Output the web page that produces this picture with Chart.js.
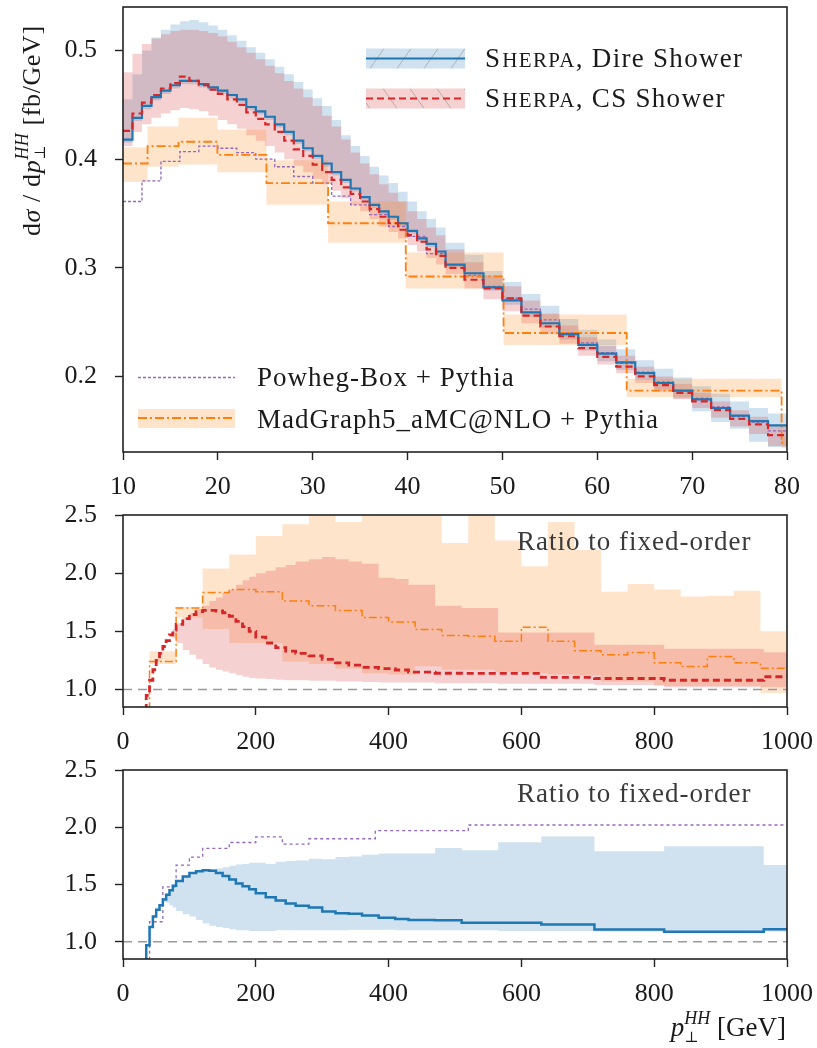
<!DOCTYPE html>
<html>
<head>
<meta charset="utf-8">
<script src="https://cdn.jsdelivr.net/npm/chart.js@4.4.1/dist/chart.umd.min.js"></script>
<style>
  html, body { margin: 0; padding: 0; background: #fff; }
  #wrap { position: relative; width: 817px; height: 1048px; }
  canvas { position: absolute; left: 0; }
</style>
</head>
<body>
<div id="wrap">
  <canvas id="topChart" width="817" height="500" style="top:0px"></canvas>
  <canvas id="midChart" width="817" height="258" style="top:500px"></canvas>
  <canvas id="botChart" width="817" height="293" style="top:755px"></canvas>
</div>
<script>
// ---- top panel: d sigma / d pT, 10-80 GeV ----
const topTicksX = [10, 20, 30, 40, 50, 60, 70, 80];
const topTicksY = [0.2, 0.3, 0.4, 0.5];

const sherpaEdges = [10, 11, 12, 13, 14, 15, 16, 17, 18, 19, 20, 21, 22, 23, 24, 25, 26, 27, 28, 29,
  30, 31, 32, 33, 34, 35, 36, 37, 38, 39, 40, 41, 42, 43, 44,
  46, 48, 50, 52, 54, 56, 58, 60, 62, 64, 66, 68, 70, 72, 74, 76, 78, 80];

const direCentral = [0.418, 0.438, 0.449, 0.457, 0.463, 0.468, 0.472, 0.472, 0.469, 0.466,
  0.463, 0.459, 0.455, 0.448, 0.444, 0.439, 0.432, 0.425, 0.417, 0.410,
  0.403, 0.396, 0.388, 0.381, 0.373, 0.365, 0.358, 0.352, 0.347, 0.341,
  0.334, 0.327, 0.322, 0.315,
  0.303, 0.295, 0.282, 0.270, 0.259, 0.249, 0.239, 0.229, 0.221, 0.213, 0.203, 0.194, 0.187, 0.179, 0.171, 0.164, 0.159, 0.155];
const direUp = [0.455, 0.478, 0.500, 0.512, 0.519, 0.524, 0.527, 0.528, 0.526, 0.523,
  0.519, 0.514, 0.509, 0.503, 0.498, 0.492, 0.485, 0.478, 0.471, 0.464,
  0.456, 0.449, 0.436, 0.422, 0.412, 0.403, 0.393, 0.385, 0.378, 0.370,
  0.361, 0.352, 0.345, 0.337,
  0.323, 0.312, 0.297, 0.287, 0.276, 0.265, 0.253, 0.243, 0.234, 0.225, 0.215, 0.207, 0.199, 0.191, 0.184, 0.177, 0.171, 0.166];
const direDown = [0.415, 0.435, 0.446, 0.454, 0.460, 0.465, 0.469, 0.469, 0.466, 0.463,
  0.460, 0.456, 0.452, 0.445, 0.441, 0.436, 0.429, 0.422, 0.414, 0.407,
  0.400, 0.393, 0.385, 0.378, 0.370, 0.362, 0.355, 0.349, 0.344, 0.338,
  0.331, 0.324, 0.319, 0.312,
  0.300, 0.291, 0.279, 0.266, 0.255, 0.245, 0.234, 0.224, 0.214, 0.206, 0.197, 0.188, 0.180, 0.168, 0.158, 0.152, 0.140, 0.135];

const csCentral = [0.426, 0.442, 0.452, 0.459, 0.465, 0.470, 0.476, 0.472, 0.468, 0.464,
  0.460, 0.455, 0.450, 0.443, 0.437, 0.432, 0.425, 0.417, 0.409, 0.403,
  0.395, 0.388, 0.381, 0.374, 0.368, 0.361, 0.354, 0.347, 0.341, 0.335,
  0.330, 0.324, 0.317, 0.311,
  0.300, 0.289, 0.281, 0.272, 0.256, 0.246, 0.237, 0.226, 0.218, 0.209, 0.200, 0.192, 0.185, 0.177, 0.169, 0.161, 0.156, 0.146];
const csUp = [0.480, 0.497, 0.506, 0.511, 0.515, 0.518, 0.519, 0.519, 0.518, 0.516,
  0.513, 0.508, 0.503, 0.498, 0.492, 0.486, 0.479, 0.472, 0.465, 0.457,
  0.449, 0.440, 0.430, 0.418, 0.406, 0.396, 0.386, 0.377, 0.369, 0.361,
  0.352, 0.345, 0.337, 0.330,
  0.317, 0.305, 0.293, 0.283, 0.270, 0.258, 0.247, 0.236, 0.228, 0.219, 0.209, 0.200, 0.193, 0.185, 0.177, 0.169, 0.163, 0.155];
const csDown = [0.412, 0.425, 0.432, 0.438, 0.442, 0.445, 0.447, 0.446, 0.444, 0.440,
  0.436, 0.432, 0.428, 0.422, 0.417, 0.412, 0.406, 0.400, 0.394, 0.388,
  0.382, 0.377, 0.371, 0.364, 0.358, 0.352, 0.345, 0.338, 0.333, 0.327,
  0.321, 0.315, 0.309, 0.303,
  0.294, 0.281, 0.271, 0.260, 0.249, 0.239, 0.230, 0.219, 0.211, 0.203, 0.194, 0.186, 0.179, 0.171, 0.162, 0.154, 0.147, 0.136];

const mg5Edges = [10, 12.59, 15.85, 19.95, 25.12, 31.62, 39.81, 50.12, 63.10, 79.43, 90];
const mg5Central = [0.396, 0.412, 0.416, 0.404, 0.378, 0.341, 0.292, 0.240, 0.187, 0.139];
const mg5Up = [0.411, 0.430, 0.438, 0.427, 0.399, 0.361, 0.314, 0.257, 0.198, 0.144];
const mg5Down = [0.379, 0.393, 0.395, 0.388, 0.358, 0.323, 0.281, 0.229, 0.181, 0.134];

const powhegEdges = [10, 12, 14, 16, 18, 20, 22, 24, 26, 28, 30, 32, 34, 36, 38, 40, 42, 44,
  46, 48, 50, 52, 54, 56, 58, 60, 62, 64, 66, 68, 70, 72, 74, 76, 78, 80];
const powhegCentral = [0.361, 0.380, 0.398, 0.407, 0.412, 0.410, 0.406, 0.400, 0.393, 0.384,
  0.378, 0.366, 0.358, 0.349, 0.338, 0.329, 0.313, 0.303, 0.293, 0.283,
  0.272, 0.262, 0.252, 0.240, 0.231, 0.222, 0.212, 0.204, 0.195, 0.187,
  0.180, 0.172, 0.163, 0.158, 0.150];

// ---- ratio panels, 0-1000 GeV ----
const ratioTicksX = [0, 200, 400, 600, 800, 1000];
const ratioTicksY = [1.0, 1.5, 2.0, 2.5];

const ratioEdges = [30, 35, 40, 45, 50, 55, 60, 65, 70, 75, 80,
  90, 100, 110, 120, 130, 140, 150, 160, 170, 180, 190, 200,
  215, 230, 245, 260, 280, 300, 320, 340, 360,
  385, 410, 430, 470, 510, 565, 630, 710, 815, 965, 1000];

const csRatio = [0.75, 0.95, 1.08, 1.17, 1.25, 1.31, 1.37, 1.42, 1.47, 1.51,
  1.56, 1.61, 1.645, 1.67, 1.68, 1.68, 1.675, 1.66, 1.63, 1.585, 1.54, 1.50,
  1.45, 1.40, 1.36, 1.33,
  1.31, 1.29, 1.26, 1.23, 1.21,
  1.19, 1.18, 1.168, 1.15, 1.14, 1.139, 1.139, 1.105, 1.095, 1.08, 1.11];
const csRatioUp = [0.76, 0.96, 1.09, 1.18, 1.26, 1.32, 1.38, 1.43, 1.48, 1.52,
  1.57, 1.62, 1.655, 1.69, 1.72, 1.76, 1.79, 1.83, 1.86, 1.90, 1.94, 1.97,
  2.00, 2.02, 2.05, 2.07,
  2.10, 2.12, 2.14, 2.12, 2.10,
  2.08, 1.96, 1.95, 1.90, 1.72, 1.70, 1.49, 1.49, 1.385, 1.35, 1.32];
const csRatioDown = [0.74, 0.94, 1.07, 1.16, 1.24, 1.30, 1.36, 1.41, 1.45, 1.44,
  1.40, 1.34, 1.30, 1.26, 1.22, 1.19, 1.17, 1.155, 1.14, 1.125, 1.11, 1.10,
  1.095, 1.09, 1.085, 1.08,
  1.08, 1.075, 1.075, 1.07, 1.07,
  1.065, 1.06, 1.06, 1.06, 1.055, 1.055, 1.05, 1.05, 1.04, 1.02, 1.02];

const direRatio = [0.80, 0.97, 1.13, 1.22, 1.28, 1.32, 1.37, 1.41, 1.45, 1.49,
  1.53, 1.57, 1.60, 1.615, 1.625, 1.62, 1.60, 1.575, 1.545, 1.51, 1.485, 1.46,
  1.425, 1.39, 1.36, 1.335,
  1.315, 1.30, 1.265, 1.25, 1.245,
  1.23, 1.21, 1.20, 1.19, 1.189, 1.166, 1.166, 1.152, 1.108, 1.087, 1.11];
const direRatioUp = [0.80, 0.98, 1.14, 1.23, 1.29, 1.33, 1.38, 1.42, 1.46, 1.50,
  1.54, 1.58, 1.60, 1.62, 1.63, 1.635, 1.64, 1.65, 1.665, 1.675, 1.68, 1.69,
  1.69, 1.68, 1.70, 1.705,
  1.71, 1.725, 1.72, 1.74, 1.745,
  1.76, 1.77, 1.77, 1.77, 1.82, 1.80, 1.87, 1.92, 1.79, 1.835, 1.67];
const direRatioDown = [0.80, 0.96, 1.12, 1.21, 1.27, 1.31, 1.35, 1.34, 1.32, 1.30,
  1.27, 1.24, 1.22, 1.19, 1.16, 1.14, 1.13, 1.12, 1.11, 1.10, 1.10, 1.095,
  1.095, 1.095, 1.10, 1.10,
  1.10, 1.10, 1.10, 1.10, 1.105,
  1.105, 1.105, 1.10, 1.10, 1.10, 1.10, 1.095, 1.095, 1.09, 1.09, 1.09];

const mg5RatioEdges = [0, 40, 80, 120, 160, 200, 240, 280, 320, 360, 400, 440, 480, 520,
  560, 600, 640, 680, 720, 760, 800, 840, 880, 920, 960, 1000];
const mg5Ratio = [0.5, 1.24, 1.70, 1.835, 1.86, 1.84, 1.76, 1.72, 1.68, 1.62, 1.58, 1.515, 1.465,
  1.457, 1.414, 1.536, 1.414, 1.333, 1.298, 1.318, 1.231, 1.197, 1.284, 1.231, 1.183];
const mg5RatioUp = [0.5, 1.33, 1.71, 2.04, 2.16, 2.32, 2.42, 2.7, 2.44, 2.7, 2.7, 2.7, 2.26,
  2.7, 2.28, 2.06, 2.44, 2.20, 1.84, 1.907, 1.86, 1.80, 1.805, 1.85, 1.50];
const mg5RatioDown = [0.5, 1.22, 1.62, 1.52, 1.40, 1.40, 1.24, 1.22, 1.18, 1.14, 1.13, 1.20, 1.17,
  1.17, 1.15, 1.14, 1.13, 1.12, 1.07, 1.07, 1.03, 1.03, 1.03, 1.03, 0.97];

const powhegRatioEdges = [0, 40, 60, 80, 100, 120, 160, 200, 240, 280, 380, 520, 1000];
const powhegRatio = [0.5, 1.175, 1.48, 1.67, 1.74, 1.815, 1.867, 1.916, 1.853, 1.90, 1.97, 2.02];

// ---- styling ----
const FONT = '"Liberation Serif", "DejaVu Serif", serif';
const INK = '#1a1a1a';
const BLUE = '#1f77b4', RED = '#d62728', ORANGE = '#ff7f0e', PURPLE = '#9467bd';
const BLUE_BAND = 'rgba(31,119,180,0.21)';
const RED_BAND = 'rgba(214,39,40,0.21)';
const ORANGE_BAND = 'rgba(255,127,14,0.21)';

function stepPts(edges, vals) {
  const pts = [];
  for (let i = 0; i < vals.length; i++) {
    pts.push({ x: edges[i], y: vals[i] });
    pts.push({ x: edges[i + 1], y: vals[i] });
  }
  return pts;
}

function lineSet(edges, vals, color, width, dash, order) {
  return {
    data: stepPts(edges, vals), borderColor: color, borderWidth: width, borderDash: dash,
    pointRadius: 0, fill: false, order: order, clip: 0
  };
}

// pushes lower + upper edge, filled between
function addBand(sets, edges, lo, hi, color, order) {
  sets.push({ data: stepPts(edges, lo), borderColor: 'rgba(0,0,0,0)', borderWidth: 0,
    pointRadius: 0, fill: false, order: order, clip: 0 });
  const idx = sets.length - 1;
  sets.push({ data: stepPts(edges, hi), borderColor: 'rgba(0,0,0,0)', borderWidth: 0,
    pointRadius: 0, fill: idx, backgroundColor: color, order: order, clip: 0 });
}

function noPad(s) {
  s.paddingTop = 0; s.paddingBottom = 0; s.paddingLeft = 0; s.paddingRight = 0;
}

function axisX(min, max, ticks, height) {
  return {
    type: 'linear', min: min, max: max,
    afterBuildTicks: s => { s.ticks = ticks.map(v => ({ value: v })); },
    afterFit: s => { s.height = height; noPad(s); },
    grid: { drawOnChartArea: false, drawTicks: true, tickLength: 8, tickWidth: 1.4, tickColor: '#222' },
    border: { display: false },
    ticks: { font: { family: FONT, size: 26 }, color: INK, padding: 12, maxRotation: 0, autoSkip: false,
      callback: v => String(v) }
  };
}

function axisY(min, max, ticks) {
  return {
    min: min, max: max,
    afterBuildTicks: s => { s.ticks = ticks.map(v => ({ value: v })); },
    afterFit: s => { s.width = 123; noPad(s); },
    grid: { drawOnChartArea: false, drawTicks: true, tickLength: 8, tickWidth: 1.4, tickColor: '#222' },
    border: { display: false },
    ticks: { font: { family: FONT, size: 26 }, color: INK, padding: 18, autoSkip: false,
      callback: v => Number(v).toFixed(1) }
  };
}

const framePlugin = {
  id: 'frame',
  afterDatasetsDraw(chart) {
    const { ctx, chartArea: a } = chart;
    ctx.save();
    ctx.strokeStyle = '#222';
    ctx.lineWidth = 1.6;
    ctx.strokeRect(a.left, a.top, a.right - a.left, a.bottom - a.top);
    ctx.restore();
  }
};

// draws text pieces; sub/superscripts (stack) share one slot after the previous piece
function drawRuns(ctx, runs, x, y) {
  let slot = 0;
  for (const r of runs) {
    ctx.font = (r.italic ? 'italic ' : '') + r.size + 'px ' + FONT;
    const w = ctx.measureText(r.t).width;
    if (r.stack) {
      ctx.fillText(r.t, x, y + (r.dy || 0));
      slot = Math.max(slot, w);
      continue;
    }
    x += slot;
    slot = 0;
    ctx.fillText(r.t, x, y + (r.dy || 0));
    x += w;
  }
  return x + slot;
}

function runsWidth(ctx, runs) {
  let total = 0, slot = 0;
  for (const r of runs) {
    ctx.font = (r.italic ? 'italic ' : '') + r.size + 'px ' + FONT;
    const w = ctx.measureText(r.t).width;
    if (r.stack) { slot = Math.max(slot, w); continue; }
    total += slot + w;
    slot = 0;
  }
  return total + slot;
}

function sherpaLabel(ctx, x, y, rest) {
  x = drawRuns(ctx, [{ t: 'S', size: 27 }], x, y);
  x = drawRuns(ctx, [{ t: 'HERPA', size: 21 }], x + 1, y);
  drawRuns(ctx, [{ t: rest, size: 27 }], x, y);
}

function swatch(ctx, x0, x1, yc, h, fill, slant) {
  ctx.fillStyle = fill;
  ctx.fillRect(x0, yc - h / 2, x1 - x0, h);
  ctx.save();
  ctx.beginPath();
  ctx.rect(x0, yc - h / 2, x1 - x0, h);
  ctx.clip();
  ctx.strokeStyle = 'rgba(140,140,140,0.55)';
  ctx.lineWidth = 1;
  ctx.setLineDash([]);
  ctx.beginPath();
  for (let x = x0 + 4; x < x1 + 30; x += 27) {
    ctx.moveTo(x, yc + h / 2);
    ctx.lineTo(x + slant * h * 0.7, yc - h / 2);
  }
  ctx.stroke();
  ctx.restore();
}

function hline(ctx, x0, x1, y, color, width, dash) {
  ctx.strokeStyle = color;
  ctx.lineWidth = width;
  ctx.setLineDash(dash);
  ctx.beginPath();
  ctx.moveTo(x0, y);
  ctx.lineTo(x1, y);
  ctx.stroke();
  ctx.setLineDash([]);
}

const topDecor = {
  id: 'topDecor',
  afterDraw(chart) {
    const ctx = chart.ctx;
    ctx.save();
    ctx.fillStyle = INK;
    ctx.textBaseline = 'alphabetic';
    ctx.letterSpacing = '1.3px';

    // legend, top right
    swatch(ctx, 366, 465, 58.5, 20, BLUE_BAND, 1);
    hline(ctx, 366, 465, 58.5, BLUE, 2.2, []);
    swatch(ctx, 366, 465, 98.5, 20, RED_BAND, -1);
    hline(ctx, 366, 465, 98.5, RED, 2.2, [7, 4]);
    ctx.fillStyle = INK;
    sherpaLabel(ctx, 485, 67, ', Dire Shower');
    sherpaLabel(ctx, 485, 107, ', CS Shower');

    // legend, bottom left
    ctx.letterSpacing = '1px';
    hline(ctx, 138, 235, 377.5, PURPLE, 1.3, [3, 2]);
    ctx.fillStyle = ORANGE_BAND;
    ctx.fillRect(138, 409, 97, 19);
    hline(ctx, 138, 235, 418, ORANGE, 1.8, [9, 3, 2, 3]);
    ctx.fillStyle = INK;
    drawRuns(ctx, [{ t: 'Powheg-Box + Pythia', size: 27 }], 257, 386);
    drawRuns(ctx, [{ t: 'MadGraph5_aMC@NLO + Pythia', size: 27 }], 257, 428);

    // y axis title, rotated
    ctx.letterSpacing = '0.6px';
    ctx.translate(40, 236);
    ctx.rotate(-Math.PI / 2);
    drawRuns(ctx, [
      { t: 'd', size: 26 }, { t: '\u03c3', size: 26, italic: true }, { t: ' / d', size: 26 },
      { t: 'p', size: 26, italic: true },
      { t: '\u22a5', size: 15, dy: 5, stack: true },
      { t: 'HH', size: 18, italic: true, dy: -12, stack: true },
      { t: ' [fb/GeV]', size: 26 }
    ], 0, 0);
    ctx.restore();
  }
};

function ratioText(y) {
  return {
    id: 'ratioText',
    afterDraw(chart) {
      const ctx = chart.ctx;
      ctx.save();
      ctx.letterSpacing = '1px';
      ctx.fillStyle = '#3a3a3a';
      drawRuns(ctx, [{ t: 'Ratio to fixed-order', size: 27 }], 517, y);
      ctx.restore();
    }
  };
}

const xTitle = {
  id: 'xTitle',
  afterDraw(chart) {
    const ctx = chart.ctx;
    ctx.save();
    ctx.fillStyle = INK;
    const runs = [
      { t: 'p', size: 27, italic: true },
      { t: '\u22a5', size: 15, dy: 6, stack: true },
      { t: 'HH', size: 18, italic: true, dy: -12, stack: true },
      { t: ' [GeV]', size: 27 }
    ];
    const w = runsWidth(ctx, runs);
    drawRuns(ctx, runs, 786 - w, 281);
    ctx.restore();
  }
};

function baseOptions(padTop, xs, ys) {
  return {
    responsive: false, animation: false, events: [],
    layout: { autoPadding: false, padding: { left: 0, right: 30, top: padTop, bottom: 0 } },
    plugins: { legend: { display: false }, tooltip: { enabled: false } },
    elements: { line: { tension: 0, borderJoinStyle: 'miter', borderCapStyle: 'butt' } },
    scales: { x: xs, y: ys }
  };
}

// ---- top chart ----
const topSets = [];
addBand(topSets, sherpaEdges, direDown, direUp, BLUE_BAND, 9);
addBand(topSets, sherpaEdges, csDown, csUp, RED_BAND, 8);
addBand(topSets, mg5Edges, mg5Down, mg5Up, ORANGE_BAND, 7);
topSets.push(lineSet(powhegEdges, powhegCentral, PURPLE, 1.3, [3, 2], 4));
topSets.push(lineSet(mg5Edges, mg5Central, ORANGE, 1.8, [9, 3, 2, 3], 3));
topSets.push(lineSet(sherpaEdges, direCentral, BLUE, 2.2, [], 2));
topSets.push(lineSet(sherpaEdges, csCentral, RED, 2.2, [7, 4], 1));

new Chart(document.getElementById('topChart'), {
  type: 'line',
  data: { datasets: topSets },
  options: baseOptions(7, axisX(10, 80, topTicksX, 48), axisY(0.1305, 0.540, topTicksY)),
  plugins: [framePlugin, topDecor]
});

// ---- middle chart: CS shower & MadGraph ratios ----
const midSets = [];
addBand(midSets, mg5RatioEdges, mg5RatioDown, mg5RatioUp, ORANGE_BAND, 9);
addBand(midSets, ratioEdges, csRatioDown, csRatioUp, RED_BAND, 8);
midSets.push(lineSet([0, 1000], [1.0], '#9a9a9a', 1.5, [9, 6], 3));
midSets.push(lineSet(mg5RatioEdges, mg5Ratio, ORANGE, 1.5, [8, 3, 2, 3], 2));
midSets.push(lineSet(ratioEdges, csRatio, RED, 2.8, [7, 4], 1));

new Chart(document.getElementById('midChart'), {
  type: 'line',
  data: { datasets: midSets },
  options: baseOptions(15, axisX(0, 1000, ratioTicksX, 51), axisY(0.85, 2.5, ratioTicksY)),
  plugins: [framePlugin, ratioText(50)]
});

// ---- bottom chart: Dire shower & Powheg ratios ----
const botSets = [];
addBand(botSets, ratioEdges, direRatioDown, direRatioUp, BLUE_BAND, 9);
botSets.push(lineSet([0, 1000], [1.0], '#9a9a9a', 1.5, [9, 6], 3));
botSets.push(lineSet(powhegRatioEdges, powhegRatio, PURPLE, 1.3, [3, 3], 2));
botSets.push(lineSet(ratioEdges, direRatio, BLUE, 2.5, [], 1));

new Chart(document.getElementById('botChart'), {
  type: 'line',
  data: { datasets: botSets },
  options: baseOptions(15, axisX(0, 1000, ratioTicksX, 89), axisY(0.85, 2.5, ratioTicksY)),
  plugins: [framePlugin, ratioText(47), xTitle]
});
</script>
</body>
</html>
